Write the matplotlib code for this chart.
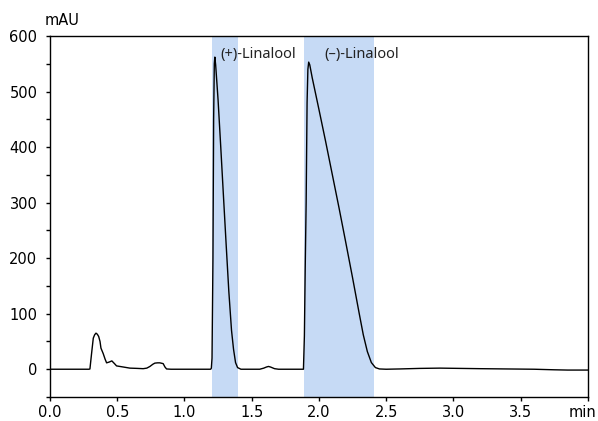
import matplotlib
matplotlib.use('Agg')
import matplotlib.pyplot as plt
import matplotlib.transforms as mtransforms
from matplotlib.ticker import MultipleLocator

# chromatogram trace (time in min, signal in mAU)
time = [0.00, 0.29, 0.297, 0.31, 0.322, 0.332, 0.342, 0.352, 0.362, 0.372, 0.379, 0.396,
        0.41, 0.421, 0.441, 0.46, 0.48, 0.495, 0.52, 0.545, 0.594, 0.65, 0.693, 0.72,
        0.743, 0.765, 0.780, 0.80, 0.817, 0.835, 0.842, 0.855, 0.867, 0.90, 1.00, 1.10,
        1.195, 1.20, 1.205, 1.212, 1.217, 1.222, 1.226, 1.232, 1.25, 1.27, 1.29, 1.31,
        1.33, 1.35, 1.365, 1.38, 1.395, 1.42, 1.50, 1.56, 1.59, 1.61, 1.625, 1.64,
        1.67, 1.70, 1.80, 1.885, 1.892, 1.898, 1.905, 1.912, 1.918, 1.924, 1.932, 1.95,
        2.00, 2.05, 2.10, 2.15, 2.20, 2.25, 2.30, 2.33, 2.36, 2.39, 2.42, 2.45, 2.50,
        2.60, 2.75, 2.90, 3.05, 3.20, 3.40, 3.60, 3.75, 3.85, 4.00]
signal = [0.0, 0.0, 0.5, 30, 56, 62, 65, 63, 59, 50, 38, 28,
          18, 11.5, 13, 15, 10, 6, 5, 4, 2, 1.5, 1, 2,
          5, 9, 11, 11.5, 11.5, 10.5, 10, 4, 0.5, 0, 0, 0,
          0, 2, 20, 200, 450, 550, 562, 548, 485, 400, 312, 225,
          140, 70, 36, 12, 3, 0, 0, 0, 2, 4, 5, 4,
          1, 0, 0, 0, 60, 180, 300, 480, 540, 553, 548, 525,
          468, 410, 350, 290, 228, 165, 100, 62, 32, 12, 3, 0.5, 0,
          0.5, 1.5, 2, 1.5, 1, 0.5, 0, -1, -1.5, -1.5]

# shaded peak windows and their labels
windows = [(1.204, 1.397), (1.887, 2.407)]
peak_names = ['(+)-Linalool', '(–)-Linalool']
label_x = [1.268, 2.038]
label_y = [561, 561]

xticks = [0.0, 0.5, 1.0, 1.5, 2.0, 2.5, 3.0, 3.5, 4.0]
xticklabels = ['0.0', '0.5', '1.0', '1.5', '2.0', '2.5', '3.0', '3.5', 'min']
yticks = [0, 100, 200, 300, 400, 500, 600]


def main():
    plt.rcParams['font.family'] = ['DejaVu Sans']
    fig = plt.figure(figsize=(5.98, 4.21), dpi=100)
    ax = fig.add_axes([0.0836, 0.057, 0.8994, 0.8575])

    for (lo, hi) in windows:
        ax.axvspan(lo, hi, color='#c6daf5', lw=0, zorder=0)

    ax.plot(time, signal, color='black', lw=1.0, zorder=2)

    for name, tx, ty in zip(peak_names, label_x, label_y):
        ax.text(tx, ty, name, fontsize=10.5, family=['Noto Sans', 'DejaVu Sans'],
                color='#222222', va='baseline', ha='left', zorder=3)

    ax.set_xlim(0, 4.0)
    ax.set_ylim(-50, 600)
    ax.set_xticks(xticks)
    ax.set_xticklabels(xticklabels)
    ax.set_yticks(yticks)
    ax.yaxis.set_minor_locator(MultipleLocator(50))
    ax.tick_params(axis='x', which='major', labelsize=10.5, length=3, width=1, pad=3)
    ax.tick_params(axis='y', which='major', labelsize=10.5, length=3, width=1, pad=6)
    ax.tick_params(axis='y', which='minor', length=3, width=1)
    for sp in ax.spines.values():
        sp.set_linewidth(1.0)
        sp.set_color('black')

    # the "min" unit label sits a little left of its tick
    last = ax.get_xticklabels()[-1]
    last.set_transform(last.get_transform() + mtransforms.ScaledTranslation(-0.05, 0, fig.dpi_scale_trans))

    fig.text(0.075, 0.94, 'mAU', fontsize=10.5, va='baseline', ha='left')

    fig.savefig('out.png', dpi=100)


if __name__ == "__main__":
    main()
